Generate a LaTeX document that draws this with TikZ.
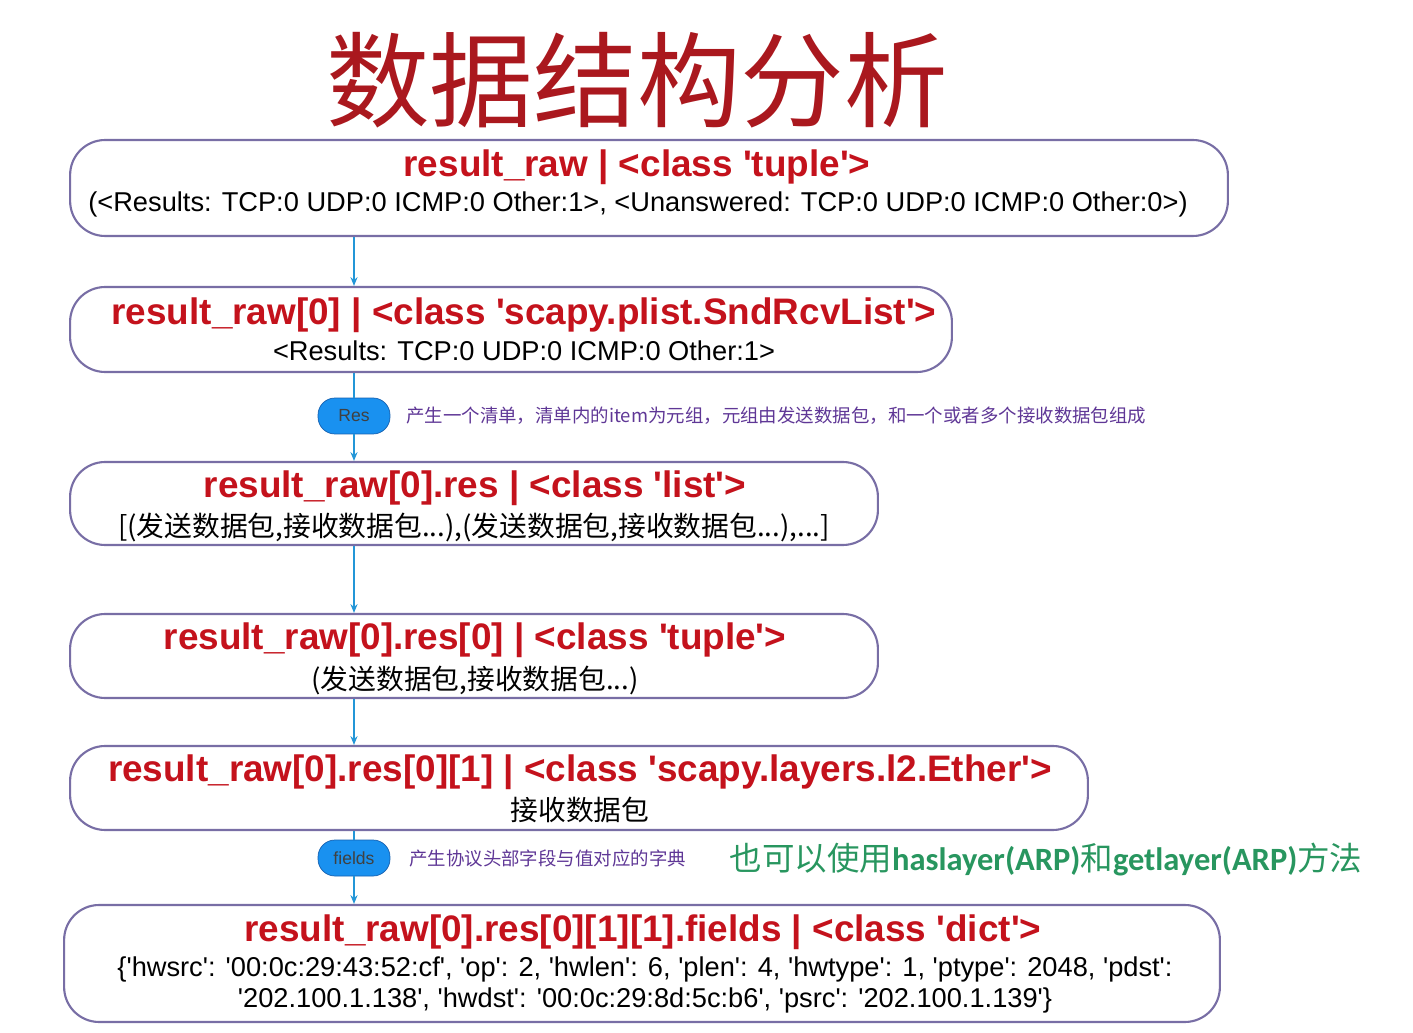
\documentclass[tikz,border=0pt]{standalone}
\usepackage{fontspec}
\setmainfont{Liberation Sans}[Ligatures=TeXOff]
\newfontfamily\cjk{Noto Sans CJK SC}
\newfontfamily\calib{Carlito}
\usetikzlibrary{arrows.meta}

\begin{document}
\begin{tikzpicture}[x=0.02cm, y=-0.02cm,
    box/.style={draw=boxline, line width=1.2pt, rounded corners=0.7cm, fill=white, inner sep=0pt},
    pill/.style={draw=pillline, fill=pillblue, rounded corners=0.34cm, minimum width=1.44cm,
      minimum height=0.72cm, inner sep=0pt, text=black!75, font=\fontsize{10}{12}\selectfont},
    head/.style={text=headred, font=\bfseries\fontsize{21}{24}\selectfont},
    body/.style={font=\fontsize{15.5}{18}\selectfont},
    zhbody/.style={font=\cjk\fontsize{15.8}{18}\selectfont},
    note/.style={anchor=west, text=notepurple, font=\cjk\fontsize{10.5}{12}\selectfont},
    link/.style={draw=flowblue, line width=0.8pt},
    flow/.style={link, -{Stealth[length=5pt,width=4pt]}}]
  \definecolor{headred}{RGB}{196,18,28}
  \definecolor{titlered}{RGB}{170,24,30}
  \definecolor{boxline}{RGB}{120,110,165}
  \definecolor{flowblue}{RGB}{35,150,215}
  \definecolor{pillblue}{RGB}{25,145,240}
  \definecolor{pillline}{RGB}{20,95,175}
  \definecolor{notepurple}{RGB}{95,55,150}
  \definecolor{greentext}{RGB}{40,150,95}

  \useasboundingbox (0,0) rectangle (1413,1033);

  \node[text=titlered, font=\cjk\fontsize{59}{60}\selectfont] (title) at (637,80) {数据结构分析};

  % boxes
  \node[box, minimum width=23.16cm, minimum height=1.92cm] (b1) at (649,188) {};
  \node[box, minimum width=17.64cm, minimum height=1.70cm] (b2) at (511,329.5) {};
  \node[box, minimum width=16.16cm, minimum height=1.66cm] (b3) at (474,503.5) {};
  \node[box, minimum width=16.16cm, minimum height=1.68cm] (b4) at (474,656) {};
  \node[box, minimum width=20.36cm, minimum height=1.68cm] (b5) at (579,788) {};
  \node[box, minimum width=23.12cm, minimum height=2.34cm] (b6) at (642,963.5) {};

  \node[pill] (res) at (354,416) {Res};
  \node[pill] (fld) at (354,858) {fields};

  % texts
  \node[head] (t1) at (637,167) {result\_raw | <class 'tuple'>};
  \node[body] (s1) at (638,204) {(<Results: TCP:0 UDP:0 ICMP:0 Other:1>, <Unanswered: TCP:0 UDP:0 ICMP:0 Other:0>)};

  \node[head] (t2) at (524,315) {result\_raw[0] | <class 'scapy.plist.SndRcvList'>};
  \node[body] (s2) at (524,351) {<Results: TCP:0 UDP:0 ICMP:0 Other:1>};

  \node[head] (t3) at (475,488) {result\_raw[0].res | <class 'list'>};
  \node[zhbody] (s3) at (474,527) {[(发送数据包,接收数据包...),(发送数据包,接收数据包...),...]};

  \node[head] (t4) at (475,640) {result\_raw[0].res[0] | <class 'tuple'>};
  \node[zhbody] (s4) at (475,680) {(发送数据包,接收数据包...)};

  \node[head] (t5) at (580,772) {result\_raw[0].res[0][1] | <class 'scapy.layers.l2.Ether'>};
  \node[zhbody] (s5) at (580,810) {接收数据包};

  \node[head] (t6) at (643,932) {result\_raw[0].res[0][1][1].fields | <class 'dict'>};
  \node[body, align=center] (s6) at (645,985) {\{'hwsrc': '00:0c:29:43:52:cf', 'op': 2, 'hwlen': 6, 'plen': 4, 'hwtype': 1, 'ptype': 2048, 'pdst':\\
    '202.100.1.138', 'hwdst': '00:0c:29:8d:5c:b6', 'psrc': '202.100.1.139'\}};

  \node[note] (n1) at (400,416) {产生一个清单，清单内的item为元组，元组由发送数据包，和一个或者多个接收数据包组成};
  \node[note] (n2) at (403,858) {产生协议头部字段与值对应的字典};
  \node[text=greentext, font=\fontsize{18.5}{20}\selectfont] (tip) at (1046,860)
    {{\cjk 也可以使用}{\calib\bfseries haslayer(ARP)}{\cjk 和}{\calib\bfseries getlayer(ARP)}{\cjk 方法}};

  % connectors
  \draw[flow] (b1.south -| res.center) -- (b2.north -| res.center);
  \draw[link] (b2.south -| res.center) -- (res.north);
  \draw[flow] (res.south) -- (b3.north -| res.center);
  \draw[flow] (b3.south -| res.center) -- (b4.north -| res.center);
  \draw[flow] (b4.south -| res.center) -- (b5.north -| res.center);
  \draw[link] (b5.south -| fld.center) -- (fld.north);
  \draw[flow] (fld.south) -- (b6.north -| fld.center);

\end{tikzpicture}
\end{document}
